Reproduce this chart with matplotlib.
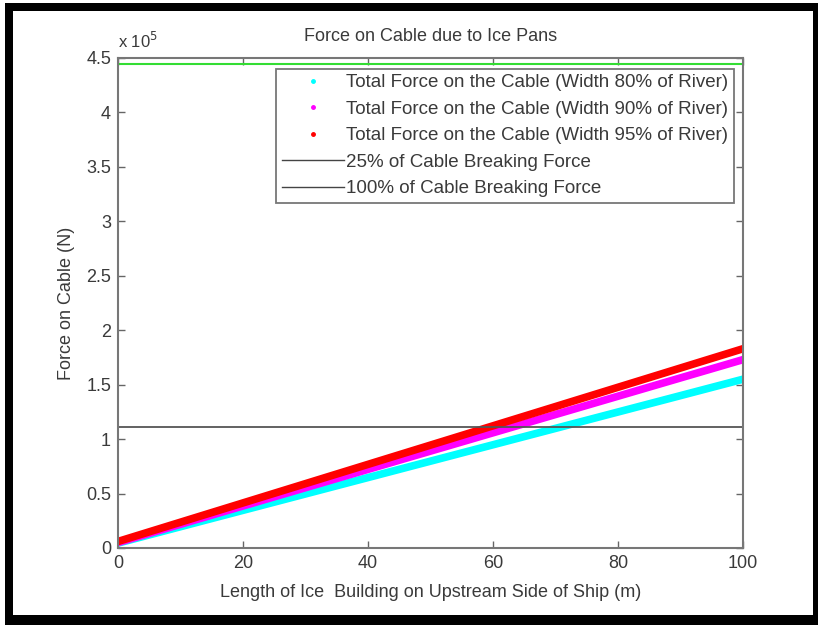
import matplotlib
matplotlib.use("Agg")
import matplotlib.pyplot as plt
from matplotlib.lines import Line2D
from matplotlib.patches import Rectangle

# data
length_m = [0, 100]
force_80 = [0.045e5, 1.55e5]
force_90 = [0.05e5, 1.73e5]
force_95 = [0.06e5, 1.83e5]
breaking_25 = 1.112e5
breaking_100 = 4.448e5

labels = ["Total Force on the Cable (Width 80% of River)",
          "Total Force on the Cable (Width 90% of River)",
          "Total Force on the Cable (Width 95% of River)",
          "25% of Cable Breaking Force",
          "100% of Cable Breaking Force"]

plt.rcParams['font.family'] = ['Liberation Sans', 'DejaVu Sans']
fs = 13
plt.rcParams['font.size'] = fs
grey = '#3a3a3a'

fig = plt.figure(figsize=(8.18, 6.25), dpi=100, facecolor='white')
W, H = 818.0, 625.0
# black frame of the screenshot
fig.patches.append(Rectangle((5 / W, 0), 813 / W, 1 - 3 / H, transform=fig.transFigure,
                             facecolor='black', edgecolor='none', zorder=-2))
fig.patches.append(Rectangle((13 / W, 10 / H), 800 / W, (614 - 10) / H, transform=fig.transFigure,
                             facecolor='white', edgecolor='none', zorder=-1))

ax = fig.add_axes([118 / W, (H - 548) / H, (743 - 118) / W, (548 - 58) / H])
ax.plot(length_m, force_80, color='cyan', lw=5.5, solid_capstyle='round')
ax.plot(length_m, force_90, color='magenta', lw=5.5, solid_capstyle='round')
ax.plot(length_m, force_95, color='red', lw=5.5, solid_capstyle='round')
ax.axhline(breaking_25, color='#555555', lw=1.3)
ax.axhline(breaking_100, color='#33dd33', lw=1.5)

ax.set_xlim(0, 100)
ax.set_ylim(0, 4.5e5)
ax.set_xticks([0, 20, 40, 60, 80, 100])
yt = [0, 0.5e5, 1e5, 1.5e5, 2e5, 2.5e5, 3e5, 3.5e5, 4e5, 4.5e5]
ax.set_yticks(yt)
ax.set_yticklabels(['0', '0.5', '1', '1.5', '2', '2.5', '3', '3.5', '4', '4.5'])
ax.tick_params(direction='in', length=5, width=1, colors='#666666', labelcolor=grey,
               top=True, right=True, labelsize=fs, pad=5)
for s in ax.spines.values():
    s.set_color('#777777')
    s.set_linewidth(1.5)
ax.text(0, 1.015, r'x 10$^5$', transform=ax.transAxes, color=grey, fontsize=fs - 1,
        ha='left', va='bottom')

ax.set_title("Force on Cable due to Ice Pans", color=grey, fontsize=fs, pad=12)
ax.set_xlabel("Length of Ice  Building on Upstream Side of Ship (m)", color=grey, labelpad=9)
ax.set_ylabel("Force on Cable (N)", color=grey, labelpad=8)

handles = [Line2D([], [], color='cyan', marker='.', ls='none', markersize=5),
           Line2D([], [], color='magenta', marker='.', ls='none', markersize=5),
           Line2D([], [], color='red', marker='.', ls='none', markersize=5),
           Line2D([], [], color='#444444', lw=1),
           Line2D([], [], color='#444444', lw=1)]
leg = ax.legend(handles, labels, loc='upper right', bbox_to_anchor=(0.995, 0.99),
                fancybox=False, framealpha=1, edgecolor='#777777', fontsize=13.5,
                handlelength=3.3, handletextpad=0.15, labelspacing=0.5,
                borderpad=0.3, borderaxespad=0.3)
leg.get_frame().set_linewidth(1.3)
for t in leg.get_texts():
    t.set_color(grey)

fig.savefig("out.png", dpi=100, facecolor='white')
